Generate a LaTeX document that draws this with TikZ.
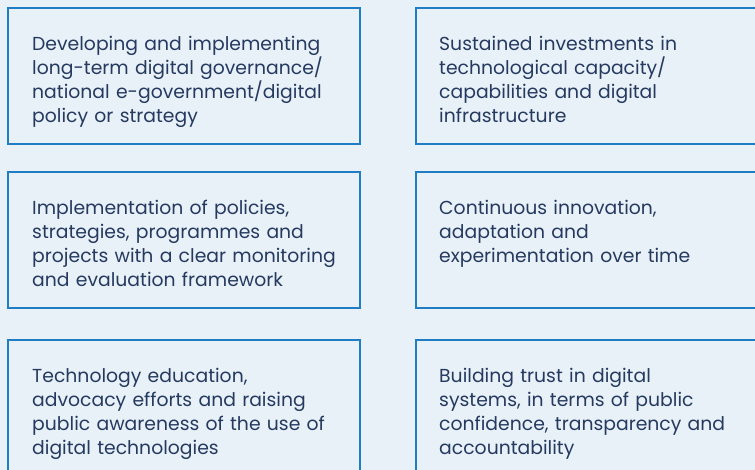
\documentclass[tikz,border=0pt]{standalone}
\usepackage{fontspec}
\setmainfont{Poppins}
\usepackage{tikz}
\usetikzlibrary{positioning}
\definecolor{pagebg}{RGB}{232,241,248}
\definecolor{boxline}{RGB}{30,125,195}
\definecolor{boxtext}{RGB}{38,58,96}
\tikzstyle{panel} = [rectangle, draw=boxline, line width=1.6pt, fill=pagebg,
minimum width=352pt, minimum height=136pt, inner sep=0pt, outer sep=0pt]
\tikzstyle{blurb} = [anchor=north west, inner sep=0pt, text width=330pt, align=left,
text=boxtext, font=\fontsize{18.8}{24}\selectfont]

\begin{document}
\begin{tikzpicture}[x=1pt, y=1pt]

      \useasboundingbox (0,0) rectangle (755,-470);
      \fill[pagebg] (0,0) rectangle (755,-470);
      \clip (0,0) rectangle (755,-470);

      % the six panels, two columns
      \node (P1) [panel, anchor=north west] at (8,-8) {};
      \node (P2) [panel, right=56pt of P1] {};
      \node (P3) [panel, below=28pt of P1] {};
      \node (P4) [panel, right=56pt of P3] {};
      \node (P5) [panel, below=32pt of P3] {};
      \node (P6) [panel, right=56pt of P5] {};

      \node (T1) [blurb, below right=27.5pt and 24pt of P1.north west]
        {Developing and implementing\\ long-term digital governance/\\ national e-government/digital\\ policy or strategy};
      \node (T2) [blurb, below right=27.5pt and 23pt of P2.north west]
        {Sustained investments in\\ technological capacity/\\ capabilities and digital\\ infrastructure};
      \node (T3) [blurb, below right=27.5pt and 24pt of P3.north west]
        {Implementation of policies,\\ strategies, programmes and\\ projects with a clear monitoring\\ and evaluation framework};
      \node (T4) [blurb, below right=27.5pt and 23pt of P4.north west]
        {Continuous innovation,\\ adaptation and\\ experimentation over time};
      \node (T5) [blurb, below right=27.5pt and 24pt of P5.north west]
        {Technology education,\\ advocacy efforts and raising\\ public awareness of the use of\\ digital technologies};
      \node (T6) [blurb, below right=27.5pt and 23pt of P6.north west]
        {Building trust in digital\\ systems, in terms of public\\ confidence, transparency and\\ accountability};

  \end{tikzpicture}
\end{document}
